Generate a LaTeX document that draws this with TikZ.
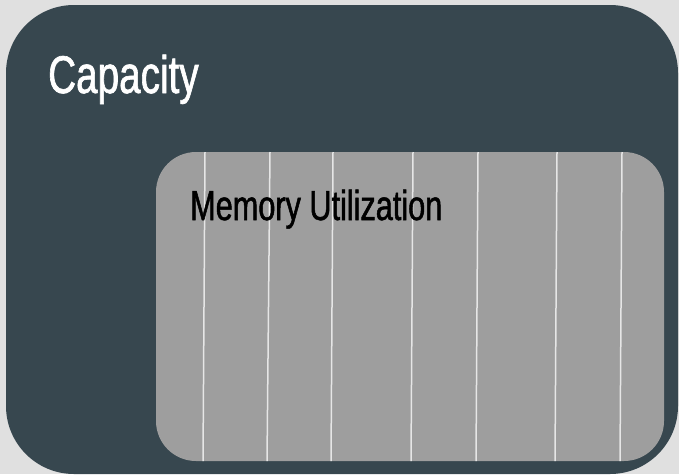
\documentclass[tikz,border=0pt]{standalone}
\usepackage{fontspec}
\newfontfamily\oswlike[FakeStretch=0.73,FakeBold=1.2]{Liberation Sans}
\definecolor{bgcol}{HTML}{E0E0E0}
\definecolor{slate}{HTML}{37474F}
\definecolor{panel}{HTML}{9E9E9E}
\definecolor{rule}{HTML}{E6E6E6}
\begin{document}
\begin{tikzpicture}[x=1pt,y=-1pt,
  outerbox/.style={fill=slate,rounded corners=68pt},
  innerbox/.style={fill=panel,rounded corners=40pt},
  gridline/.style={draw=rule,line width=1.5pt},
  titletext/.style={anchor=base west,inner sep=0pt,text=white,font=\oswlike\fontsize{53}{60}\selectfont},
  subtext/.style={anchor=base west,inner sep=0pt,text=black,font=\oswlike\fontsize{42}{48}\selectfont}]
\fill[bgcol] (0,0) rectangle (679,474);
\useasboundingbox (0,0) rectangle (679,474);
\fill[outerbox] (6,5) rectangle (678,474);
\fill[innerbox] (156,152) rectangle (664,461);
\foreach \xt/\xb in {205/203,270/267,333/331,413/411,478/476,557/555,622/620}{
  \draw[gridline] (\xt,152) -- (\xb,461);
}
\node[titletext] (cap) at (48,93) {Capacity};
\node[subtext] (mem) at (190,220) {Memory Utilization};
\end{tikzpicture}
\end{document}
